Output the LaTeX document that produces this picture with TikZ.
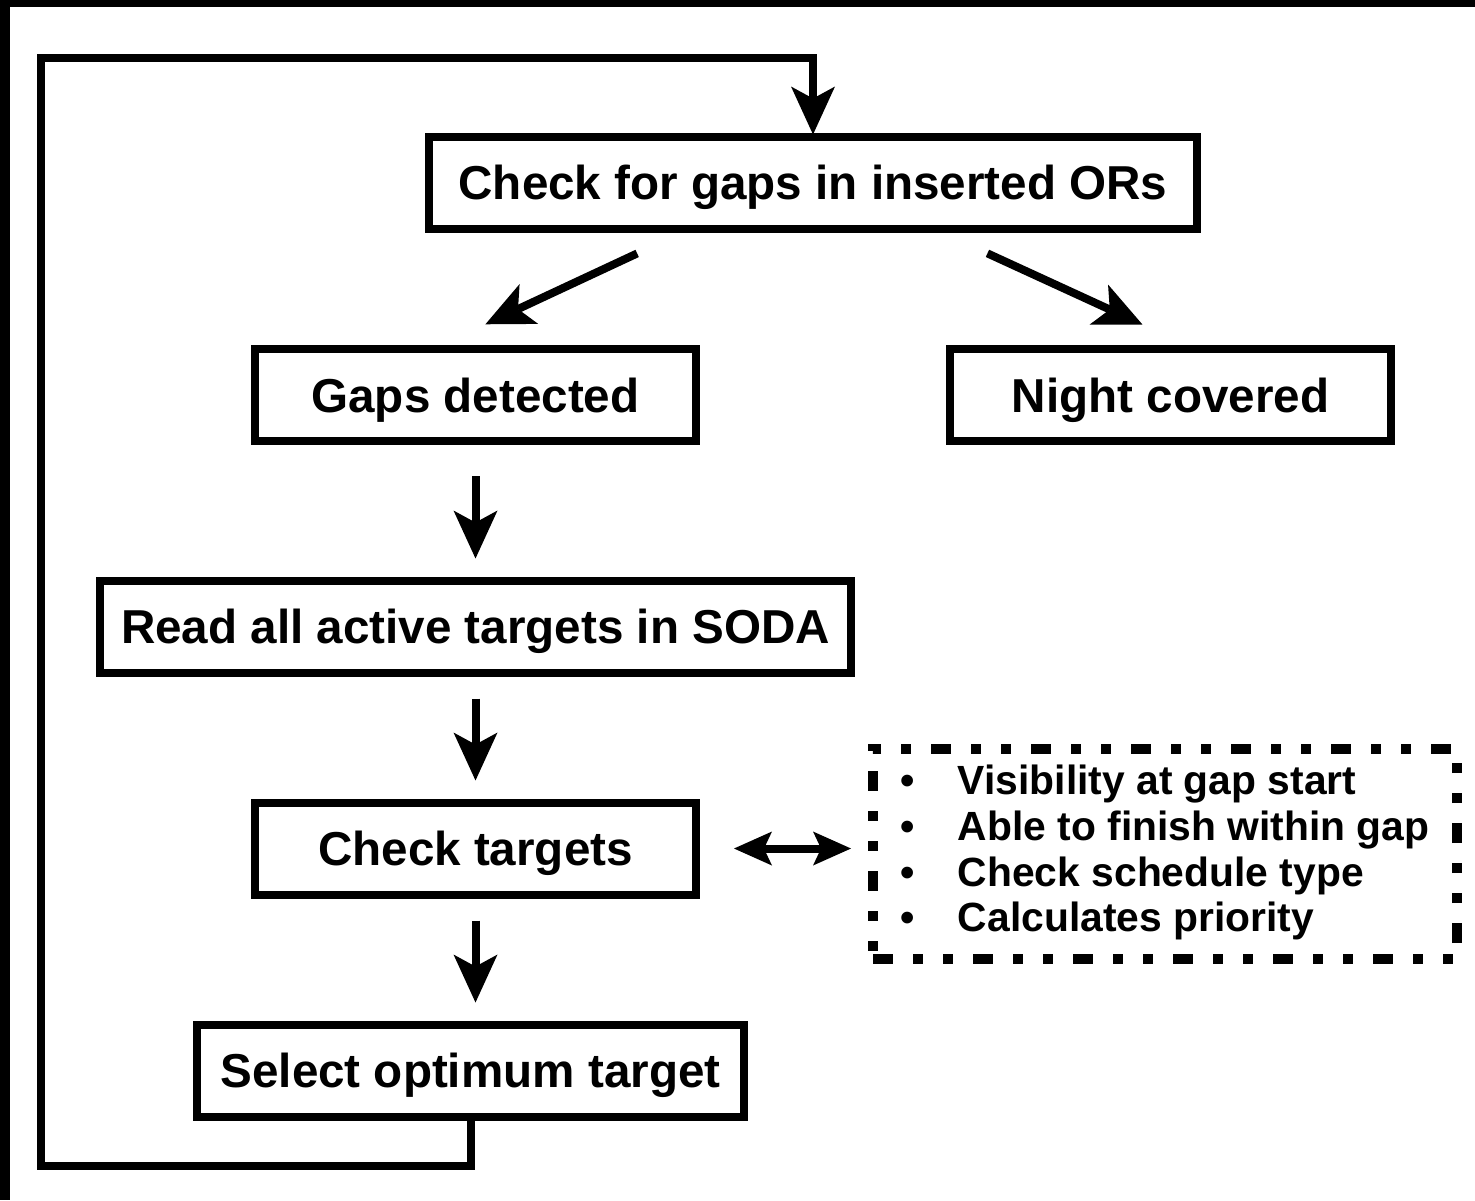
\documentclass[tikz,border=0pt]{standalone}
\usepackage{fontspec}
\setmainfont{Liberation Sans}
\usetikzlibrary{arrows.meta}

\begin{document}
\begin{tikzpicture}[
    x=0.5pt, y=-0.5pt,
    node distance=111pt,
    block/.style={rectangle, draw, line width=4pt, minimum height=46pt, text depth=0pt, font=\fontsize{23.8}{28}\selectfont\bfseries},
    arrow/.style={line width=4pt, -{Stealth[length=24pt, width=22pt, inset=6pt, sep=2pt, line width=0pt]}, shorten <=11pt, shorten >=7pt},
    both/.style={line width=4pt, {Stealth[length=19pt, width=17pt, inset=4pt, sep=1.5pt, line width=0pt]}-{Stealth[length=19pt, width=17pt, inset=4pt, sep=1.5pt, line width=0pt]}},
    list/.style={rectangle, draw, line width=5pt, dash pattern=on 10pt off 10pt on 5pt off 10pt on 5pt off 10pt, minimum width=292pt, minimum height=105pt, font=\fontsize{20.4}{22.9}\selectfont\bfseries}
]
    % background
    \useasboundingbox (0,0) rectangle (1475,1200);
    \fill [black] (0,0) rectangle (1475,1200);
    \fill [white] (10,7) rectangle (1485,1210);

    \node [block, minimum width=384pt] (scan) at (813,182.5) {Check for gaps in inserted ORs};
    \node [block, minimum width=220.5pt] (gaps) at (475.5,395) {Gaps detected};
    \node [block, minimum width=220.5pt] (night) at (1170.5,395) {Night covered};
    \node [block, minimum width=375.5pt, below of=gaps, node distance=115.75pt] (read) {Read all active targets in SODA};
    \node [block, minimum width=220.5pt, below of=read] (check) {Check targets};
    \node [block, minimum width=273.5pt, below of=check, xshift=-2.5pt] (select) {Select optimum target};

    \node [list] (crit) at (1165,854) {\begin{tabular}{@{}l@{\hspace{21.5pt}}l@{}}
        \textbullet & Visibility at gap start\\
        \textbullet & Able to finish within gap\\
        \textbullet & Check schedule type\\
        \textbullet & Calculates priority
    \end{tabular}};

    \coordinate (lowleft) at (41,1166);
    \coordinate (topleft) at (41,58);

    \draw [arrow, shorten <=24.75pt, shorten >=22.5pt] ([xshift=-65.5pt]scan.south) -- ([xshift=-17.25pt]gaps.north);
    \draw [arrow, shorten <=25pt, shorten >=22.5pt] ([xshift=64.5pt]scan.south) -- ([xshift=8.25pt]night.north);
    \draw [arrow, shorten <=15.5pt] (gaps) -- (read);
    \draw [arrow] (read) -- (check);
    \draw [arrow] (check.south) -- (check.south |- select.north);
    \draw [both, shorten <=15.5pt, shorten >=7pt] (check.east) -- (check.east -| crit.west);
    \draw [arrow, shorten <=0pt, shorten >=-3pt] (select.south) |- (lowleft) -- (topleft) -| (scan.north);
\end{tikzpicture}
\end{document}
